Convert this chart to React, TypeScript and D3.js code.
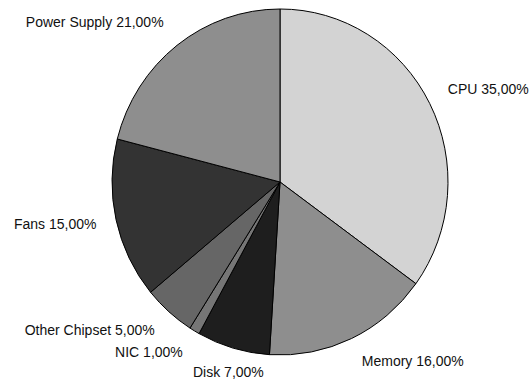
import React from "react";
import * as d3 from "d3";

const categories = ["CPU", "Memory", "Disk", "NIC", "Other Chipset", "Fans", "Power Supply"];
const values = [35, 16, 7, 1, 5, 15, 21];
const colors = ["#d3d3d3", "#8e8e8e", "#1e1e1e", "#767676", "#666666", "#333333", "#8e8e8e"];

const W = 531;
const H = 381;
const cx = 280;
const cy = 182;
const rx = 168;
const ry = 173;
const labelR = 185;

export default function App() {
  const pie = d3.pie<number>().sort(null).value((d) => d);
  const arcs = pie(values);
  const arc = d3.arc<d3.PieArcDatum<number>>().innerRadius(0).outerRadius(rx);
  const fmt = (v: number) => v.toFixed(2).replace(".", ",") + "%";

  return (
    <svg width={W} height={H} style={{ position: "absolute", left: 0, top: 0, background: "#fff" }}>
      <g transform={`translate(${cx},${cy}) scale(1,${ry / rx})`}>
        {arcs.map((a, i) => (
          <path
            key={i}
            d={arc(a) || ""}
            fill={colors[i]}
            stroke="#000"
            strokeWidth={1}
            vectorEffect="non-scaling-stroke"
            strokeLinejoin="round"
          />
        ))}
      </g>
      <g fontFamily="'Liberation Sans', Arial, sans-serif" fontSize={14} fill="#111">
        {arcs.map((a, i) => {
          const mid = (a.startAngle + a.endAngle) / 2;
          const s = Math.sin(mid);
          const c = Math.cos(mid);
          const px = cx + labelR * s;
          const py = cy - labelR * c;
          let anchor: "start" | "middle" | "end" = "middle";
          let x = px;
          if (s > 0.35) {
            anchor = "start";
            x = px + 3;
          } else if (s < -0.35) {
            anchor = "end";
            x = px - 3;
          }
          const y = py + 3 - 14.8 * c;
          return (
            <text key={i} x={x} y={y} textAnchor={anchor}>
              {categories[i]} {fmt(values[i])}
            </text>
          );
        })}
      </g>
    </svg>
  );
}
